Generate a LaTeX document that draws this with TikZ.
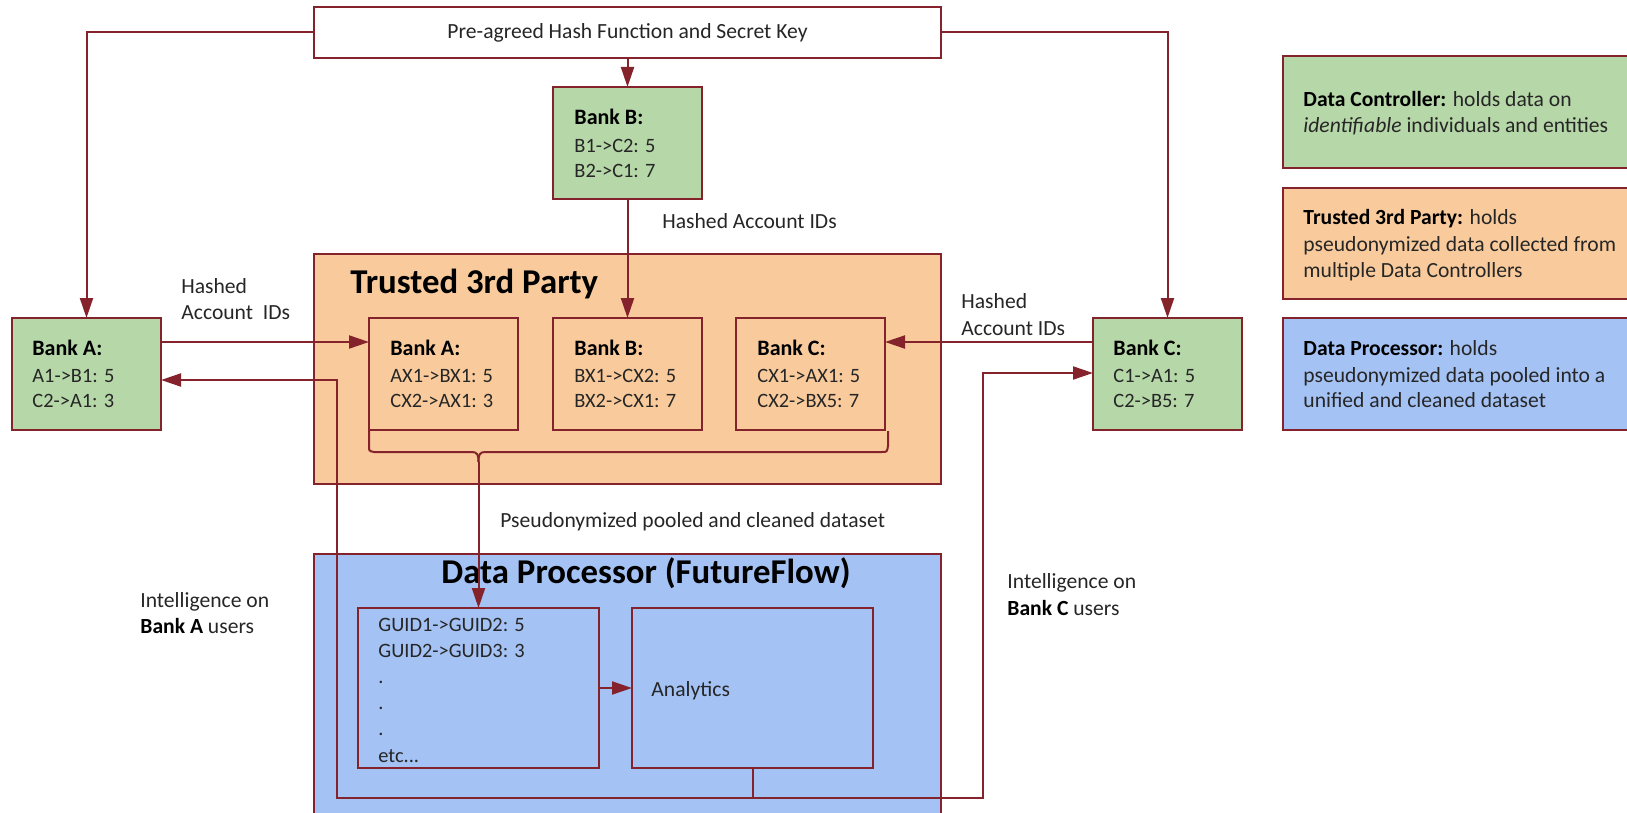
\documentclass[tikz,border=0pt]{standalone}
\usepackage{fontspec}
\setmainfont{Carlito}
\usetikzlibrary{arrows.meta}
\definecolor{wine}{HTML}{85232C}
\definecolor{gfill}{HTML}{B6D7A8}
\definecolor{ofill}{HTML}{F9CB9C}
\definecolor{bfill}{HTML}{A4C2F4}
\definecolor{ink}{HTML}{262626}
\begin{document}
\begin{tikzpicture}[x=0.5pt,y=-0.5pt,
  box/.style={draw=wine, line width=1pt, rectangle, inner sep=0pt, outer sep=0pt, anchor=north west},
  bank/.style={box, fill=gfill, minimum width=74.5pt, minimum height=56pt},
  ibank/.style={box, fill=ofill, minimum width=74.5pt, minimum height=56pt},
  wire/.style={draw=wine, line width=1pt},
  arr/.style={wire, -{Triangle[length=10pt,width=6.5pt]}},
  txt/.style={anchor=base west, inner sep=0pt, text=ink, font=\fontsize{10.8}{13}\selectfont},
  btxt/.style={txt, font=\fontsize{10.2}{13}\selectfont},
  ltxt/.style={txt, font=\fontsize{10.8}{13}\selectfont},
  head/.style={txt, font=\fontsize{11}{13}\selectfont\bfseries, text=black},
  big/.style={txt, font=\fontsize{17.4}{20}\selectfont\bfseries, text=black}]
\clip (0,0) rectangle (1627,813);

% big containers
\node[box, fill=white, minimum width=313.5pt, minimum height=25.5pt] (top) at (314,7) {};
\node[box, fill=ofill, minimum width=313.5pt, minimum height=115pt] (t3p) at (314,254) {};
\node[box, fill=bfill, minimum width=313.5pt, minimum height=150pt] (dp) at (314,554) {};

% banks
\node[bank] (bankB) at (553,87) {};
\node[bank] (bankA) at (12,318) {};
\node[bank] (bankC) at (1093,318) {};
\node[ibank] (iA) at (369,318) {};
\node[ibank] (iB) at (553,318) {};
\node[ibank] (iC) at (736,318) {};

% processor inner boxes
\node[box, fill=bfill, minimum width=120.5pt, minimum height=80pt] (guid) at (358,608) {};
\node[box, fill=bfill, minimum width=120.5pt, minimum height=80pt] (analytics) at (632,608) {};

% legend
\node[box, fill=gfill, minimum width=200pt, minimum height=56pt] (legG) at (1283,56) {};
\node[box, fill=ofill, minimum width=200pt, minimum height=55.5pt] (legO) at (1283,188) {};
\node[box, fill=bfill, minimum width=200pt, minimum height=56pt] (legB) at (1283,318) {};

% texts
\node[txt, anchor=center] (topT) at (top.center) {Pre-agreed Hash Function and Secret Key};

\node[head] (bBh) at (574,125) {Bank B:};
\node[btxt] (bB1) at (574,152) {B1->C2: 5};
\node[btxt] (bB2) at (574,177) {B2->C1: 7};

\node[head] (bAh) at (32,355) {Bank A:};
\node[btxt] (bA1) at (32,382) {A1->B1: 5};
\node[btxt] (bA2) at (32,407) {C2->A1: 3};

\node[head] (iAh) at (390,355) {Bank A:};
\node[btxt] (iA1) at (390,382) {AX1->BX1: 5};
\node[btxt] (iA2) at (390,407) {CX2->AX1: 3};

\node[head] (iBh) at (574,355) {Bank B:};
\node[btxt] (iB1) at (574,382) {BX1->CX2: 5};
\node[btxt] (iB2) at (574,407) {BX2->CX1: 7};

\node[head] (iCh) at (757,355) {Bank C:};
\node[btxt] (iC1) at (757,382) {CX1->AX1: 5};
\node[btxt] (iC2) at (757,407) {CX2->BX5: 7};

\node[head] (bCh) at (1113,355) {Bank C:};
\node[btxt] (bC1) at (1113,382) {C1->A1: 5};
\node[btxt] (bC2) at (1113,407) {C2->B5: 7};

\node[big] (t3pT) at (350,293) {Trusted 3rd Party};
\node[big] (dpT) at (441,583) {Data Processor (FutureFlow)};

\node[txt] (hB) at (662,228) {Hashed Account IDs};
\node[txt] (hA1) at (181,293) {Hashed};
\node[txt] (hA2) at (181,319) {Account\ \ IDs};
\node[txt] (hC1) at (961,308) {Hashed};
\node[txt] (hC2) at (961,335) {Account IDs};

\node[txt] (pool) at (500,527) {Pseudonymized pooled and cleaned dataset};

\node[btxt] (g1) at (378,631) {GUID1->GUID2: 5};
\node[btxt] (g2) at (378,657) {GUID2->GUID3: 3};
\node[btxt] (g3) at (378,683) {.};
\node[btxt] (g4) at (378,709) {.};
\node[btxt] (g5) at (378,735) {.};
\node[btxt] (g6) at (378,762) {etc...};
\node[txt] (anT) at (651,696) {Analytics};

\node[txt] (intA1) at (140,607) {Intelligence on};
\node[txt] (intA2) at (140,633) {\textbf{\color{black}Bank A} users};
\node[txt] (intC1) at (1007,588) {Intelligence on};
\node[txt] (intC2) at (1007,615) {\textbf{\color{black}Bank C} users};

\node[ltxt] (lg1) at (1303,107) {\textbf{\color{black}Data Controller:} holds data on};
\node[ltxt] (lg2) at (1303,133) {\textit{identifiable} individuals and entities};
\node[ltxt] (lo1) at (1303,224) {\textbf{\color{black}Trusted 3rd Party:} holds};
\node[ltxt] (lo2) at (1303,251) {pseudonymized data collected from};
\node[ltxt] (lo3) at (1303,277) {multiple Data Controllers};
\node[ltxt] (lb1) at (1303,355) {\textbf{\color{black}Data Processor:} holds};
\node[ltxt] (lb2) at (1303,382) {pseudonymized data pooled into a};
\node[ltxt] (lb3) at (1303,407) {unified and cleaned dataset};

% connectors
\draw[arr] (top.west) -| (bankA.north);
\draw[arr] (top.east) -| (bankC.north);
\draw[arr] (top.south) -- (bankB.north);
\draw[arr] (bankB.south) -- (iB.north);
\draw[arr] ([yshift=16pt]bankA.east) -- ([yshift=16pt]iA.west);
\draw[arr] ([yshift=16pt]bankC.west) -- ([yshift=16pt]iC.east);
\draw[arr] (guid.east) -- (analytics.west);

\coordinate (bendL) at (337,798);
\coordinate (bendR) at (983,798);
\draw[arr] (analytics.south) |- (bendL) |- ([yshift=-3pt]bankA.east);
\draw[arr] (analytics.south) |- (bendR) |- ([yshift=0.5pt]bankC.west);

% brace
\coordinate (tip) at (478.5,462);
\draw[wire] (369,431) -- (369,446) .. controls (369,451) .. (374,452) -- (472,452)
  .. controls (477.5,452) and (478.5,455) .. (tip);
\draw[wire] (tip) .. controls (478.5,455) and (479.5,452) .. (485,452) -- (882,452)
  .. controls (887,452) .. (888,446) -- (888,431);
\draw[arr] (tip) -- (guid.north);
\end{tikzpicture}
\end{document}
